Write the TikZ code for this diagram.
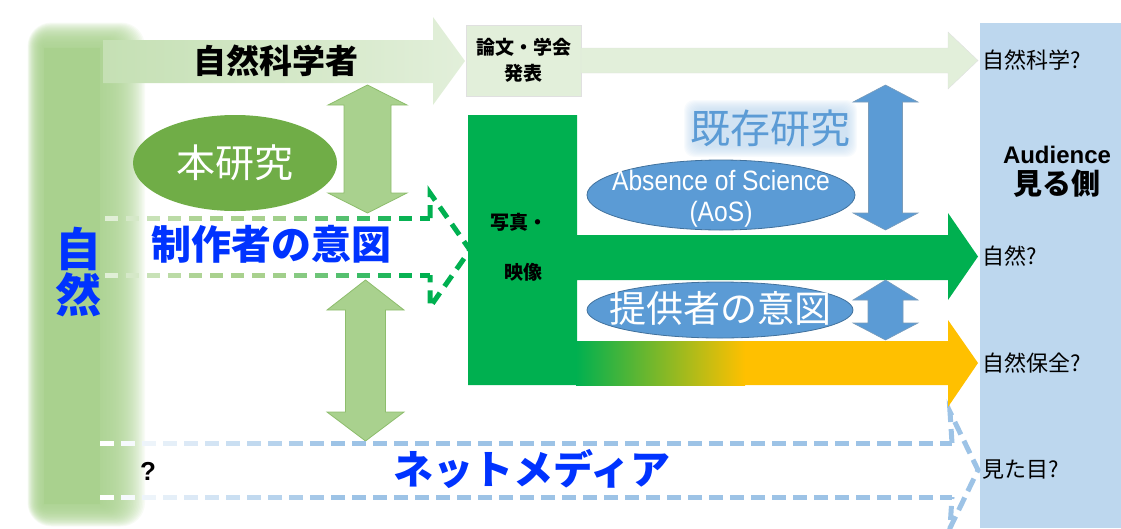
\documentclass[tikz,border=0pt]{standalone}
\usepackage{fontspec}
\setmainfont{Noto Sans CJK JP}
\newfontfamily\latf{Liberation Sans}
\newfontfamily\latn[FakeStretch=0.88]{Liberation Sans}
\usetikzlibrary{shapes.geometric}
\newcommand\fsz[1]{\fontsize{#1}{#1}\selectfont}
\definecolor{gL}{RGB}{169,209,142}
\definecolor{gLL}{RGB}{197,224,180}
\definecolor{gP}{RGB}{226,239,218}
\definecolor{gM}{RGB}{112,173,71}
\definecolor{gD}{RGB}{0,176,80}
\definecolor{yO}{RGB}{255,192,0}
\definecolor{bM}{RGB}{91,155,213}
\definecolor{bD}{RGB}{65,113,156}
\definecolor{bL}{RGB}{189,215,238}
\definecolor{bDash}{RGB}{157,195,230}
\definecolor{txtB}{RGB}{0,51,255}
% vertical double arrow: cx, ytip1, ybase1, ybase2, ytip2, head half width, shaft half width, style
\newcommand\vdarrow[8]{%
  \path[#8] (#1,#2) -- (#1+#6,#3) -- (#1+#7,#3) -- (#1+#7,#4) -- (#1+#6,#4) -- (#1,#5)
    -- (#1-#6,#4) -- (#1-#7,#4) -- (#1-#7,#3) -- (#1-#6,#3) -- cycle;}
\tikzset{
  lbl/.style={anchor=west, inner sep=0pt, font=\fsz{22}, text=black},
  garrow/.style={fill=gL, draw=gM!80, line width=0.8pt},
  barrow/.style={fill=bM, draw=bD!70, line width=0.6pt},
}
\begin{document}
\begin{tikzpicture}[x=1pt,y=-1pt]
\useasboundingbox (0,0) rectangle (1121,528);
% right audience panel
\fill[bL] (980,23) rectangle (1121,528);
% blurred green bar
\fill[gL] (44,48) rectangle (100,504);
\foreach \i in {1,...,30}{
  \fill[gL, opacity=0.085, rounded corners=0.8*\i pt]
    (44-0.55*\i,48-0.85*\i) rectangle (100+1.5*\i,504+0.75*\i);
}
\node[text=txtB, font=\fsz{46}\bfseries, align=center, inner sep=0pt] (shizen) at (78,272)
  {\fontsize{46}{50}\selectfont 自\\然};
% top arrow
\path[left color=gLL, right color=gP] (103,40) -- (433,40) -- (433,17) -- (465,61) -- (433,105) -- (433,83) -- (103,83) -- cycle;
\node[font=\fsz{33}\bfseries, text=black] (kagakusha) at (276,61) {自然科学者};
% paper box and arrow
\node[fill=gP, draw=black!12, minimum width=115pt, minimum height=71pt, inner sep=0pt, align=center,
  font=\fontsize{19}{26}\selectfont\bfseries] (paper) at (523.5,60.5) {論文・学会\\発表};
\path[fill=gP, draw=black!12] (581,48) -- (948,48) -- (948,32) -- (978,60.5) -- (948,89) -- (948,73) -- (581,73) -- cycle;
\node[lbl] (l1) at (982,60) {自然科学?};
% audience
\node[align=center, inner sep=0pt, text=black] (aud) at (1057,172)
  {{\latf\bfseries\fsz{24}Audience}\\[5pt]{\bfseries\fsz{29}見る側}};
% honkenkyu ellipse
\fill[gM] (235,163) ellipse [x radius=102pt, y radius=48pt];
\node[text=white, font=\fsz{39}] (hon) at (235,163) {本研究};
% green double arrows
\vdarrow{367.5}{85}{105}{193}{213}{39.5}{23.5}{garrow}
\vdarrow{365.5}{280}{310}{412}{441}{38.5}{20}{garrow}
% green dashed arrow (seisakusha)
\foreach \k in {0,...,15}{
  \pgfmathsetmacro\xa{105+21*\k}
  \pgfmathsetmacro\xb{min(\xa+13,430)}
  \pgfmathtruncatemacro\pa{min(100,max(0,(\xa-265)/1.4))}
  \pgfmathtruncatemacro\pb{min(100,35+(\xa-105)*0.7)}
  \draw[line width=5pt, color=gD!\pa!gL!\pb!white] (\xa,218) -- (\xb,218) (\xa,275) -- (\xb,275);
}
\draw[gD, line width=5pt, dash pattern=on 13pt off 8pt, line join=miter]
  (430,218) -- (430,193) -- (470,250) -- (430,307) -- (430,275);
\node[text=txtB, font=\fsz{40}\bfseries] (ito1) at (271,244) {制作者の意図};
% blue dashed arrow (net media)
\foreach \k in {0,...,40}{
  \pgfmathsetmacro\xa{100+21*\k}
  \pgfmathsetmacro\xb{min(\xa+14,952)}
  \pgfmathtruncatemacro\pa{min(100,max(0,(\xa-100)/2.3))}
  \draw[line width=5pt, color=bDash!\pa!white] (\xa,443) -- (\xb,443) (\xa,497) -- (\xb,497);
}
\draw[bDash, line width=5pt, dash pattern=on 14pt off 7pt]
  (952,443) -- (950,412) -- (978,470) -- (950,528) -- (952,497);
\node[text=txtB, font=\fsz{40}\bfseries] (net) at (532,469) {ネットメディア};
\node[text=black, font=\latf\bfseries\fsz{26}] (q) at (148,471) {?};
% big green L with arrows
\fill[gD] (468,115) -- (577,115) -- (577,235) -- (948,235) -- (948,213) -- (978,256.5) -- (948,300)
  -- (948,280) -- (577,280) -- (577,385) -- (468,385) -- cycle;
\fill[left color=gD, right color=yO] (576,341) rectangle (745,385);
\fill[yO] (744.5,341) -- (948,341) -- (948,320) -- (978,363) -- (948,407) -- (948,385) -- (744.5,385) -- cycle;
\node[font=\fsz{19}\bfseries, text=black] (photo1) at (519,222) {写真・};
\node[font=\fsz{19}\bfseries, text=black] (photo2) at (523,272) {映像};
\node[lbl] (l2) at (982,256) {自然?};
\node[lbl] (l3) at (982,363) {自然保全?};
\node[lbl] (l4) at (982,470) {見た目?};
% existing research with soft glow
\foreach \i in {0,...,10}{
  \fill[bL, opacity=0.1, rounded corners=10pt]
    (694-\i,110-\i) rectangle (847+\i,147+\i);
}
\node[text=bM, font=\fsz{40}] (kison) at (770,128) {既存研究};
\fill[bM, draw=bD, line width=0.8pt] (721,195) ellipse [x radius=134pt, y radius=35pt];
\node[text=white, align=center, inner sep=0pt, font=\latn\fontsize{28}{31}\selectfont] (aos) at (721,199) {Absence of Science\\(AoS)};
\fill[bM, draw=bD, line width=0.8pt] (720,310) ellipse [x radius=133pt, y radius=28pt];
\node[text=white, font=\fsz{37}] (teikyo) at (720,308) {提供者の意図};
% blue double arrows
\vdarrow{885.5}{85}{102}{213}{230}{32.5}{17}{barrow}
\vdarrow{885.5}{280}{300}{323}{340}{32.5}{17.5}{barrow}
\end{tikzpicture}
\end{document}
